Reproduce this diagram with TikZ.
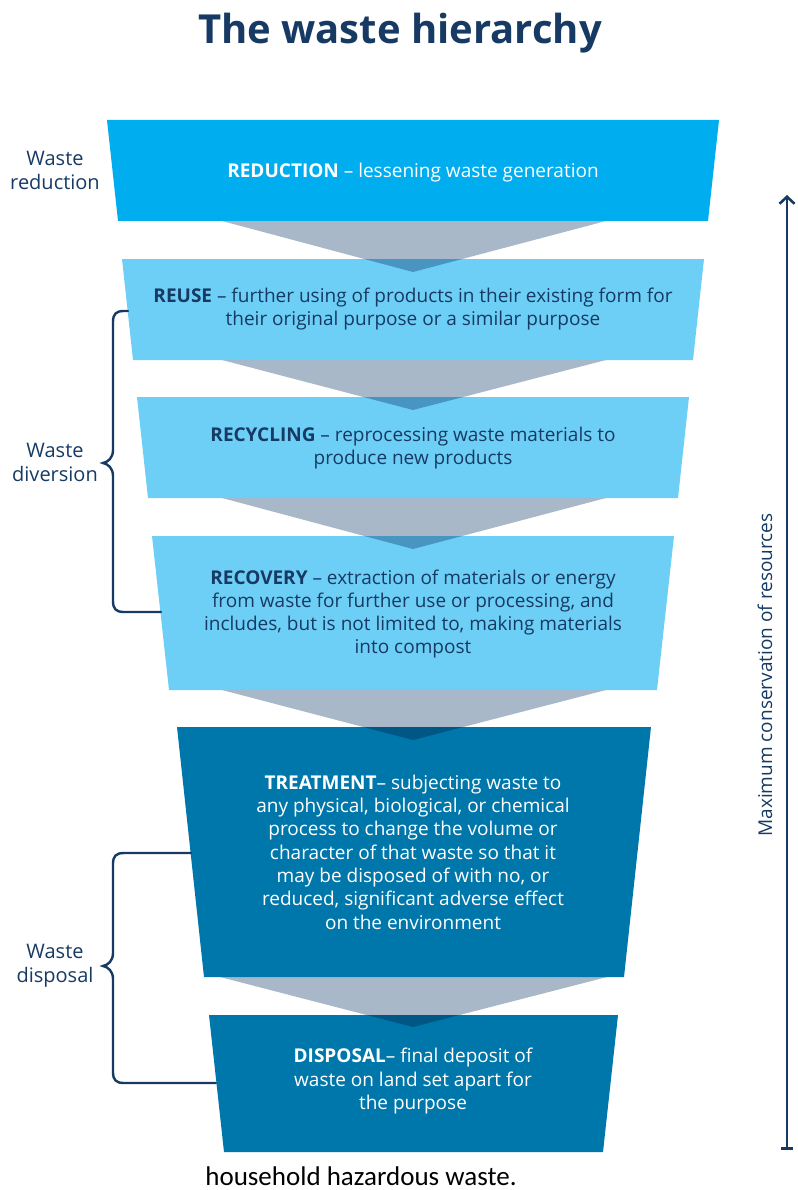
\documentclass[tikz,border=0pt]{standalone}
\usepackage{fontspec}
\setmainfont{Open Sans}
\newfontfamily\footfont{Carlito}
\usetikzlibrary{arrows.meta}

\definecolor{navy}{HTML}{163A63}
\definecolor{cyanbox}{HTML}{00AEEF}
\definecolor{lightbox}{HTML}{6DCFF6}
\definecolor{darkbox}{HTML}{0077AA}
\definecolor{arrowgray}{HTML}{A8B8C8}
\definecolor{ovlight}{HTML}{4795C0}
\definecolor{ovdark}{HTML}{005685}

\begin{document}
\begin{tikzpicture}[x=1pt,y=-1pt,
    brace/.style={draw=navy,line width=2.4pt,line cap=round},
    axis/.style={draw=navy,line width=2.6pt,{Bar[width=12pt,line width=2.6pt]}-{Straight Barb[length=7pt,width=15pt,line width=2.6pt]}},
    tiertext/.style={align=center,font=\fontsize{19}{23.3}\selectfont},
    sidetext/.style={align=center,text=navy,font=\fontsize{20}{24}\selectfont}]

  \useasboundingbox (0,0) rectangle (797,1190);

  % corners of the tiers
  \coordinate (tl1) at (107,120);  \coordinate (tr1) at (719,120);
  \coordinate (bl1) at (118,221);  \coordinate (br1) at (708,221);
  \coordinate (tl2) at (122,259);  \coordinate (tr2) at (704,259);
  \coordinate (bl2) at (133,360);  \coordinate (br2) at (693,360);
  \coordinate (tl3) at (137,397);  \coordinate (tr3) at (689,397);
  \coordinate (bl3) at (148,498);  \coordinate (br3) at (678,498);
  \coordinate (tl4) at (152,536);  \coordinate (tr4) at (674,536);
  \coordinate (bl4) at (169,690);  \coordinate (br4) at (657,690);
  \coordinate (tl5) at (177,727);  \coordinate (tr5) at (651,727);
  \coordinate (bl5) at (204,977);  \coordinate (br5) at (624,977);
  \coordinate (tl6) at (209,1015); \coordinate (tr6) at (618,1015);
  \coordinate (bl6) at (224,1152); \coordinate (br6) at (603,1152);

  % gray arrows between the tiers
  \coordinate (al1) at (222,221); \coordinate (ar1) at (606,221); \coordinate (at1) at (413,272);
  \coordinate (al2) at (222,360); \coordinate (ar2) at (606,360); \coordinate (at2) at (413,410);
  \coordinate (al3) at (222,498); \coordinate (ar3) at (606,498); \coordinate (at3) at (413,549);
  \coordinate (al4) at (222,690); \coordinate (ar4) at (606,690); \coordinate (at4) at (413,740);
  \coordinate (al5) at (220,977); \coordinate (ar5) at (607,977); \coordinate (at5) at (413,1027);

  \foreach \k in {1,...,5}
    \fill[arrowgray] (al\k) -- (ar\k) -- (at\k) -- cycle;

  \fill[cyanbox]  (tl1) -- (tr1) -- (br1) -- (bl1) -- cycle;
  \foreach \k in {2,3,4}
    \fill[lightbox] (tl\k) -- (tr\k) -- (br\k) -- (bl\k) -- cycle;
  \foreach \k in {5,6}
    \fill[darkbox] (tl\k) -- (tr\k) -- (br\k) -- (bl\k) -- cycle;

  % where an arrow runs into the next tier
  \foreach \k/\n/\ov in {1/2/ovlight,2/3/ovlight,3/4/ovlight,4/5/ovdark,5/6/ovdark}{
    \begin{scope}
      \clip (tl\n) -- (tr\n) -- (br\n) -- (bl\n) -- cycle;
      \fill[\ov] (al\k) -- (ar\k) -- (at\k) -- cycle;
    \end{scope}
  }

  \node[font=\fontsize{40}{44}\selectfont\bfseries,text=navy] (title) at (400,33) {The waste hierarchy};

  \begin{scope}[every node/.style={tiertext}]
    \node[text=white] (reduction) at (413,173) {\textbf{REDUCTION} -- lessening waste generation};
    \node[text=navy] (reuse) at (413,309) {\textbf{REUSE} -- further using of products in their existing form for\\their original purpose or a similar purpose};
    \node[text=navy] (recycling) at (413,448) {\textbf{RECYCLING} -- reprocessing waste materials to\\produce new products};
    \node[text=navy] (recovery) at (413,614) {\textbf{RECOVERY} -- extraction of materials or energy\\from waste for further use or processing, and\\includes, but is not limited to, making materials\\into compost};
    \node[text=white] (treatment) at (413,852) {\textbf{TREATMENT}-- subjecting waste to\\any physical, biological, or chemical\\process to change the volume or\\character of that waste so that it\\may be disposed of with no, or\\reduced, significant adverse effect\\on the environment};
    \node[text=white] (disposal) at (413,1081) {\textbf{DISPOSAL}-- final deposit of\\waste on land set apart for\\the purpose};
  \end{scope}

  \begin{scope}[every node/.style={sidetext}]
    \node (wred) at (55,170) {Waste\\reduction};
    \node (wdiv) at (55,462) {Waste\\diversion};
    \node (wdis) at (55,966) {Waste\\disposal};
  \end{scope}

  % braces
  \coordinate (divtop) at (128,311);
  \coordinate (divbot) at (161,612);
  \coordinate (distop) at (191,853);
  \coordinate (disbot) at (216,1083);

  \draw[brace] (divtop) -- (124,311) .. controls (116,311) and (113,314) .. (113,322)
    -- (113,450) .. controls (113,458) and (108,462) .. (103,463)
    .. controls (108,464) and (113,468) .. (113,476)
    -- (113,601) .. controls (113,609) and (116,612) .. (124,612) -- (divbot);
  \draw[brace] (distop) -- (124,853) .. controls (116,853) and (113,856) .. (113,864)
    -- (113,953) .. controls (113,961) and (108,965) .. (103,966)
    .. controls (108,967) and (113,971) .. (113,979)
    -- (113,1072) .. controls (113,1080) and (116,1083) .. (124,1083) -- (disbot);

  % resources axis
  \coordinate (axbot) at (787,1150);
  \coordinate (axtop) at (787,195);
  \draw[axis] (axbot) -- (axtop);
  \node[sidetext,font=\fontsize{19}{23}\selectfont,rotate=90] (axlabel) at (765,675) {Maximum conservation of resources};

  \node[font=\footfont\fontsize{27}{30}\selectfont,inner sep=0pt,anchor=base] (foot) at (361,1185) {household hazardous waste.};

\end{tikzpicture}
\end{document}
